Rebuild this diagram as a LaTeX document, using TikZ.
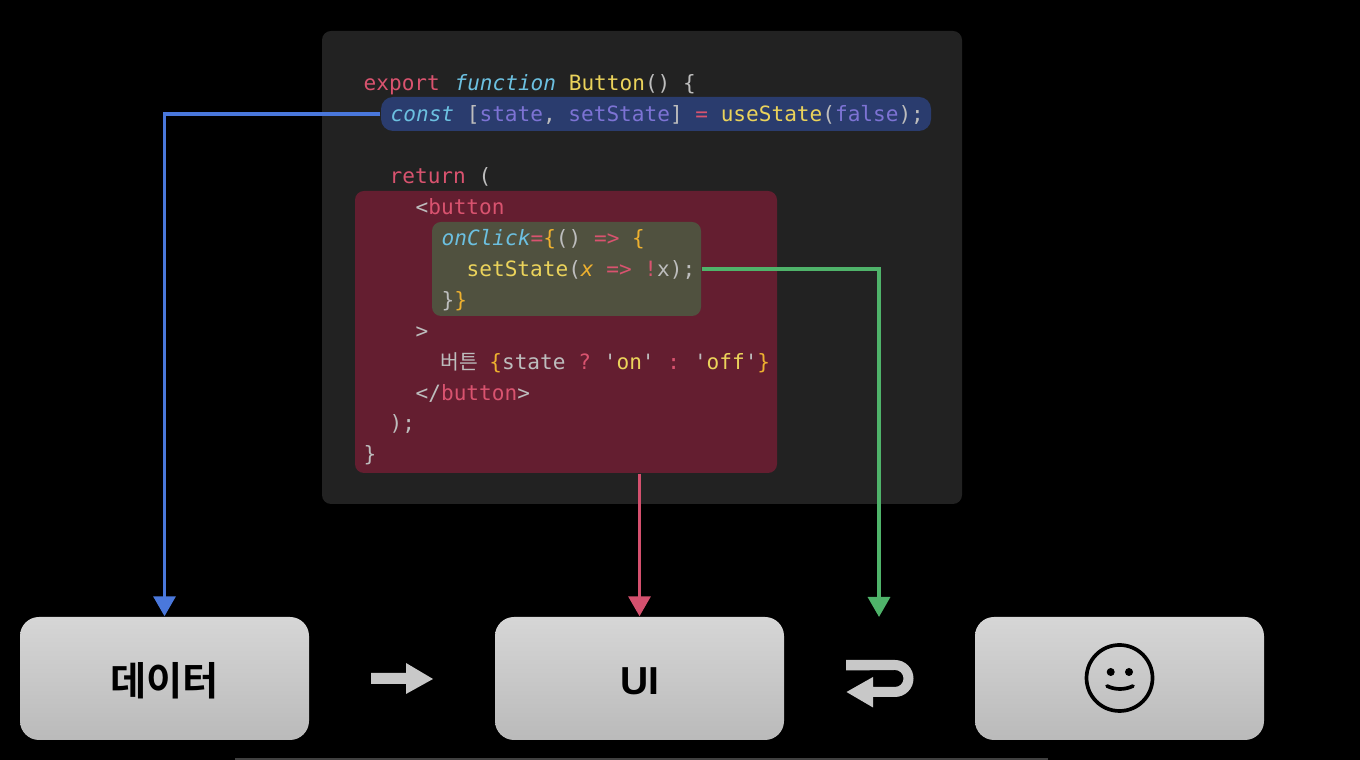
\documentclass[tikz,border=0pt]{standalone}
\usepackage{fontspec}
\usetikzlibrary{arrows.meta}

\newfontfamily\codefont{DejaVu Sans Mono}
\newfontfamily\cjk{Noto Sans CJK KR}
\newfontfamily\cjkbold[BoldFont=Noto Sans CJK KR Bold]{Noto Sans CJK KR}
\newfontfamily\labelfont{Liberation Sans}

\definecolor{panelgray}{HTML}{222222}
\definecolor{statebg}{HTML}{2A3C6E}
\definecolor{jsxbg}{HTML}{641E30}
\definecolor{handlerbg}{HTML}{50513F}
\definecolor{plain}{HTML}{BDBDBD}
\definecolor{pinkc}{HTML}{D9536F}
\definecolor{cyanc}{HTML}{6CC0E0}
\definecolor{yellowc}{HTML}{EBD35B}
\definecolor{orangec}{HTML}{EDB02F}
\definecolor{violetc}{HTML}{7D73D4}
\definecolor{bluearrow}{HTML}{4A78DC}
\definecolor{redarrow}{HTML}{D4506E}
\definecolor{greenarrow}{HTML}{4FB36A}
\definecolor{iconfill}{HTML}{C8C8C8}

\newcommand{\pk}[1]{\textcolor{pinkc}{#1}}
\newcommand{\cy}[1]{\textcolor{cyanc}{\itshape #1}}
\newcommand{\yl}[1]{\textcolor{yellowc}{#1}}
\newcommand{\og}[1]{\textcolor{orangec}{#1}}
\newcommand{\vi}[1]{\textcolor{violetc}{#1}}

\tikzset{
  panel/.style={rectangle,rounded corners=#1,inner sep=0pt},
  code/.style={anchor=base west,inner sep=0pt,font=\codefont\fontsize{6}{7}\selectfont,text=plain},
  flowbox/.style={rectangle,rounded corners=0.19cm,minimum width=2.89cm,minimum height=1.23cm,
    inner sep=0pt,top color=black!16,bottom color=black!27,text=black},
  link/.style={line width=0.95pt,-{Triangle[length=0.2cm,width=0.22cm]}},
}

\begin{document}
\begin{tikzpicture}
\useasboundingbox[fill=black] (0,0) rectangle (13.6,7.6);

% code panels
\node[panel=0.09cm,fill=panelgray,minimum width=6.4cm,minimum height=4.73cm] (codepanel) at (6.42,4.925) {};
\node[panel=0.12cm,fill=statebg,minimum width=5.5cm,minimum height=0.34cm] (stateline) at (6.56,6.46) {};
\node[panel=0.09cm,fill=jsxbg,minimum width=4.22cm,minimum height=2.82cm] (jsxbox) at (5.66,4.28) {};
\node[panel=0.09cm,fill=handlerbg,minimum width=2.69cm,minimum height=0.94cm] (handler) at (5.665,4.91) {};

% code
\node[code] (l1) at (3.63,6.69) {\pk{export} \hspace{0.02cm}\cy{function} \yl{Button}() \{};
\node[code] (l2) at (3.90,6.38) {\cy{const} [\vi{state}, \vi{setState}] \pk{=} \yl{useState}(\vi{false});};
\node[code] (l3) at (3.89,5.76) {\pk{return} (};
\node[code] (l4) at (4.15,5.45) {<\pk{button}};
\node[code] (l5) at (4.41,5.14) {\cy{onClick}\pk{=}\og{\{}() \pk{=>} \og{\{}};
\node[code] (l6) at (4.66,4.83) {\yl{setState}(\og{\itshape x} \pk{=>} \pk{!}x);};
\node[code] (l7) at (4.41,4.52) {\}\og{\}}};
\node[code] (l8) at (4.15,4.21) {>};
\node[code] (l9) at (4.40,3.90) {\makebox[0.36cm][l]{\cjk\fontsize{5.8}{7}\selectfont 버튼} \og{\{}state \pk{?} \hspace{-0.04cm}'\yl{on}' \pk{:} \hspace{-0.03cm}'\yl{off}'\og{\}}};
\node[code] (l10) at (4.15,3.59) {</\pk{button}>};
\node[code] (l11) at (3.89,3.29) {);};
\node[code] (l12) at (3.63,2.98) {\}};

% boxes
\node[flowbox,font=\cjkbold\bfseries\fontsize{11.2}{12}\selectfont] (data) at (1.645,0.815) {\raisebox{-0.173cm}[0.2cm][0.2cm]{데이터}};
\node[flowbox,font=\labelfont\bfseries\fontsize{11.1}{12}\selectfont] (ui) at (6.395,0.815) {\raisebox{-0.16cm}[0.2cm][0.2cm]{UI}};
\node[flowbox] (face) at (11.195,0.815) {};

% smiley
\draw[line width=1.05pt] (face.center) ++(0,0.005) circle (0.33);
\fill (11.107,0.88) circle (0.04);
\fill (11.29,0.88) circle (0.04);
\draw[line width=1.05pt,line cap=round] (11.07,0.74) .. controls (11.15,0.7) and (11.25,0.7) .. (11.33,0.74);

% connectors
\coordinate (effect) at (8.79,1.43);
\draw[link,bluearrow] (stateline.west) -| (data.north);
\draw[link,redarrow] (ui.north |- jsxbox.south) -- (ui.north);
\draw[link,greenarrow] (handler.east) -| (effect);

% grey arrows
\fill[iconfill] (3.71,0.87) -- (4.06,0.87) -- (4.06,0.97) -- (4.33,0.81) -- (4.06,0.66) -- (4.06,0.76) -- (3.71,0.76) -- cycle;
\fill[iconfill] (8.46,1.0) -- (8.95,1.0) arc (90:-90:0.185) -- (8.73,0.63) -- (8.73,0.525) -- (8.465,0.68) -- (8.73,0.83) -- (8.73,0.73) -- (8.95,0.73) arc (-90:90:0.085) -- (8.46,0.895) -- cycle;

% thin rule at the lower edge
\draw[black!75,line width=0.3pt] (2.35,0.01) -- (10.48,0.01);
\end{tikzpicture}
\end{document}
